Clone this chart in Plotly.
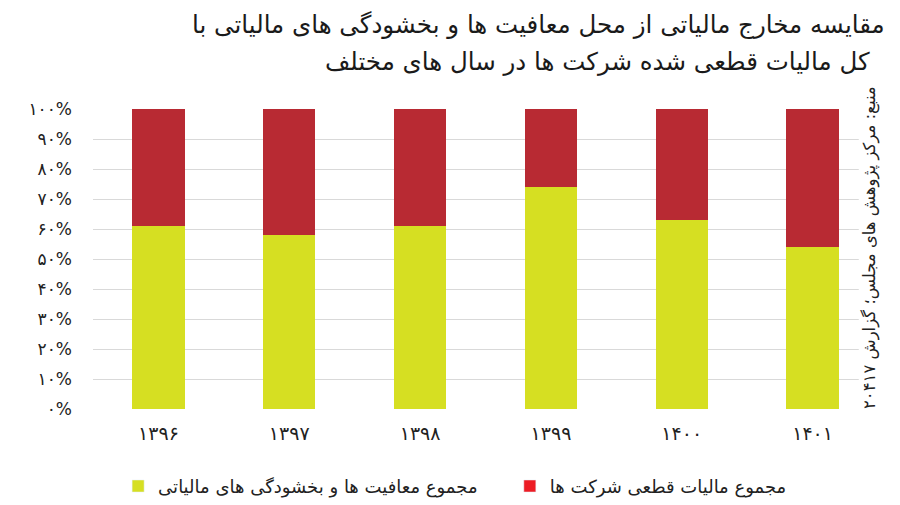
import plotly.graph_objects as go

years = ["۱۳۹۶", "۱۳۹۷", "۱۳۹۸", "۱۳۹۹", "۱۴۰۰", "۱۴۰۱"]
exemptions = [61, 58, 61, 74, 63, 54]
final_tax = [39, 42, 39, 26, 37, 46]
tick_vals = [0, 10, 20, 30, 40, 50, 60, 70, 80, 90, 100]
tick_text = ["۰%", "۱۰%", "۲۰%", "۳۰%", "۴۰%", "۵۰%", "۶۰%", "۷۰%", "۸۰%", "۹۰%", "۱۰۰%"]
name_exempt = "مجموع معافیت ها و بخشودگی های مالیاتی"
name_tax = "مجموع مالیات قطعی شرکت ها"
title_1 = "مقایسه مخارج مالیاتی از محل معافیت ها و بخشودگی های مالیاتی با"
title_2 = "کل مالیات قطعی شده شرکت ها در سال های مختلف"
source = "منبع: مرکز پژوهش های مجلس؛ گزارش ۲۰۴۱۷"

YELLOW = "#D6DF22"
RED_BAR = "#B82A33"
RED_LEG = "#ED1C24"
FONT = "DejaVu Sans"

fig = go.Figure()
fig.add_trace(go.Bar(x=years, y=exemptions, marker_color=YELLOW, showlegend=False,
                     marker_line_width=0))
fig.add_trace(go.Bar(x=years, y=final_tax, marker_color=RED_BAR, showlegend=False,
                     marker_line_width=0))
fig.add_trace(go.Bar(x=[None], y=[None], name=name_exempt, marker_color=YELLOW,
                     legend="legend"))
fig.add_trace(go.Bar(x=[None], y=[None], name=name_tax, marker_color=RED_LEG,
                     legend="legend2"))

leg_common = dict(orientation="h", xanchor="left", yref="container", y=0.037,
                  yanchor="middle", font=dict(size=18, color="#222222"),
                  itemclick=False, bgcolor="rgba(0,0,0,0)")

fig.update_layout(
    width=900, height=505,
    barmode="stack", bargap=0.6,
    paper_bgcolor="white", plot_bgcolor="white",
    margin=dict(l=93, r=22, t=109, b=96, autoexpand=False),
    font=dict(family=FONT, color="#222222", size=14),
    legend=dict(x=0.032, **leg_common),
    legend2=dict(x=0.531, **leg_common),
    xaxis=dict(type="category", categoryorder="array", categoryarray=years,
               showgrid=False, showline=False, ticks="",
               tickfont=dict(size=19, color="#222222"), ticklabelstandoff=11),
    yaxis=dict(range=[0, 100], tickvals=tick_vals, ticktext=tick_text,
               showgrid=True, gridcolor="#D9D9D9", gridwidth=1, zeroline=False,
               showline=False, tickfont=dict(size=17, color="#222222"),
               ticklabelstandoff=20),
)

fig.add_annotation(text=title_1, xref="paper", yref="paper", x=1.0115, xanchor="right",
                   y=1.283, yanchor="middle", showarrow=False,
                   font=dict(size=24.5, color="#1a1a1a", family=FONT))
fig.add_annotation(text=title_2, xref="paper", yref="paper", x=0.992, xanchor="right",
                   y=1.157, yanchor="middle", showarrow=False,
                   font=dict(size=24.5, color="#1a1a1a", family=FONT))
fig.add_annotation(text=source, xref="paper", yref="paper", x=0.99, xanchor="center",
                   y=0.537, yanchor="middle", textangle=-90, showarrow=False,
                   bgcolor="white", font=dict(size=16.5, color="#222222", family=FONT))

fig.write_html("out.html")
